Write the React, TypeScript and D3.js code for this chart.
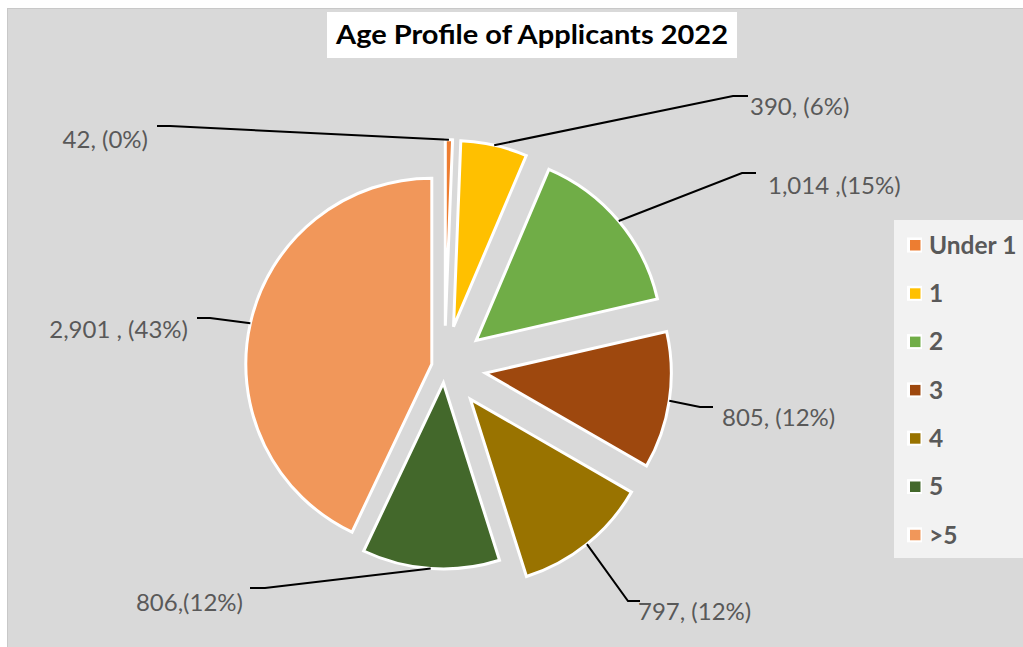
import React from "react";
import * as d3 from "d3";

const categories = ["Under 1", "1", "2", "3", "4", "5", ">5"];
const values = [42, 390, 1014, 805, 797, 806, 2901];
const labelTexts = ["42, (0%)", "390, (6%)", "1,014 ,(15%)", "805, (12%)", "797, (12%)", "806,(12%)", "2,901 , (43%)"];
const colors = ["#ed7d31", "#ffc000", "#70ad47", "#9e480e", "#997300", "#43682b", "#f1975a"];
// explosion as fraction of radius (Excel point explosion)
const explode = [0.222, 0.222, 0.222, 0.222, 0.222, 0.086, 0.07];

const W = 1023;
const H = 647;
const CX = 444.5;
const CY = 367;
const R = 186;
const FONT = "Lato, 'Open Sans', sans-serif";

// label layout: elbow point, end point, text anchor pos
const labelLayout = [
  { elbow: [170, 126], end: [157, 126], tx: 148, ty: 140, anchor: "end" },
  { elbow: [733, 96], end: [748, 96], tx: 750, ty: 107, anchor: "start" },
  { elbow: [742, 173], end: [756, 173], tx: 768, ty: 186, anchor: "start" },
  { elbow: [700, 407], end: [713, 407], tx: 722, ty: 418, anchor: "start" },
  { elbow: [628, 601], end: [640, 601], tx: 638, ty: 612, anchor: "start" },
  { elbow: [265, 588], end: [250, 588], tx: 243, ty: 603, anchor: "end" },
  { elbow: [210, 318], end: [197, 318], tx: 188, ty: 330, anchor: "end" },
];

export default function App() {
  const pie = d3
    .pie<number>()
    .sort(null)
    .startAngle(0)
    .endAngle(2 * Math.PI)
    .value((d) => d);
  const arcs = pie(values);
  const arcGen = d3.arc<d3.PieArcDatum<number>>().innerRadius(0).outerRadius(R);

  const slices = arcs.map((a, i) => {
    const mid = (a.startAngle + a.endAngle) / 2;
    const e = explode[i] * R;
    const ox = CX + Math.sin(mid) * e;
    const oy = CY - Math.cos(mid) * e;
    const ax = ox + Math.sin(mid) * R;
    const ay = oy - Math.cos(mid) * R;
    return { a, ox, oy, ax, ay, i };
  });

  const legendY0 = 245;
  const legendStep = 48.3;

  return (
    <div style={{ position: "absolute", left: 0, top: 0 }}>
      <svg width={W} height={H} style={{ display: "block" }}>
        <rect x={0} y={0} width={W} height={H} fill="#ffffff" />
        <rect x={7.5} y={8.5} width={W} height={H} fill="#d9d9d9" stroke="#c8c8c8" strokeWidth={1} />
        {/* title */}
        <rect x={327} y={12} width={410} height={46} fill="#ffffff" />
        <text
          x={336}
          y={44}
          textLength={392}
          lengthAdjust="spacingAndGlyphs"
          fontFamily={FONT}
          fontWeight="bold"
          fontSize={27}
          fill="#000000"
        >
          Age Profile of Applicants 2022
        </text>
        {/* slices */}
        {slices.map((s) => (
          <path
            key={s.i}
            d={arcGen(s.a) || ""}
            transform={`translate(${s.ox},${s.oy})`}
            fill={colors[s.i]}
            stroke="#ffffff"
            strokeWidth={3}
            strokeLinejoin="miter"
          />
        ))}
        {/* leader lines */}
        {slices.map((s) => {
          const L = labelLayout[s.i];
          return (
            <polyline
              key={"l" + s.i}
              points={`${s.ax},${s.ay} ${L.elbow[0]},${L.elbow[1]} ${L.end[0]},${L.end[1]}`}
              fill="none"
              stroke="#000000"
              strokeWidth={2}
            />
          );
        })}
        {/* labels */}
        {slices.map((s) => {
          const L = labelLayout[s.i];
          return (
            <text
              key={"t" + s.i}
              x={L.tx}
              y={L.ty}
              dy="0.35em"
              textAnchor={L.anchor as any}
              fontFamily={FONT}
              fontSize={24}
              fill="#595959"
            >
              {labelTexts[s.i]}
            </text>
          );
        })}
        {/* legend */}
        <rect x={894} y={220} width={W - 894} height={338} fill="#f2f2f2" />
        {categories.map((c, i) => {
          const y = legendY0 + i * legendStep;
          return (
            <g key={"lg" + i}>
              <rect x={907} y={y - 7.5} width={15} height={15} fill="#ffffff" />
              <rect x={910} y={y - 5} width={10.5} height={10.5} fill={colors[i]} />
              <text
                x={929}
                y={y}
                dy="0.36em"
                fontFamily={FONT}
                fontWeight="bold"
                fontSize={24.5}
                fill="#595959"
              >
                {c}
              </text>
            </g>
          );
        })}
      </svg>
    </div>
  );
}
